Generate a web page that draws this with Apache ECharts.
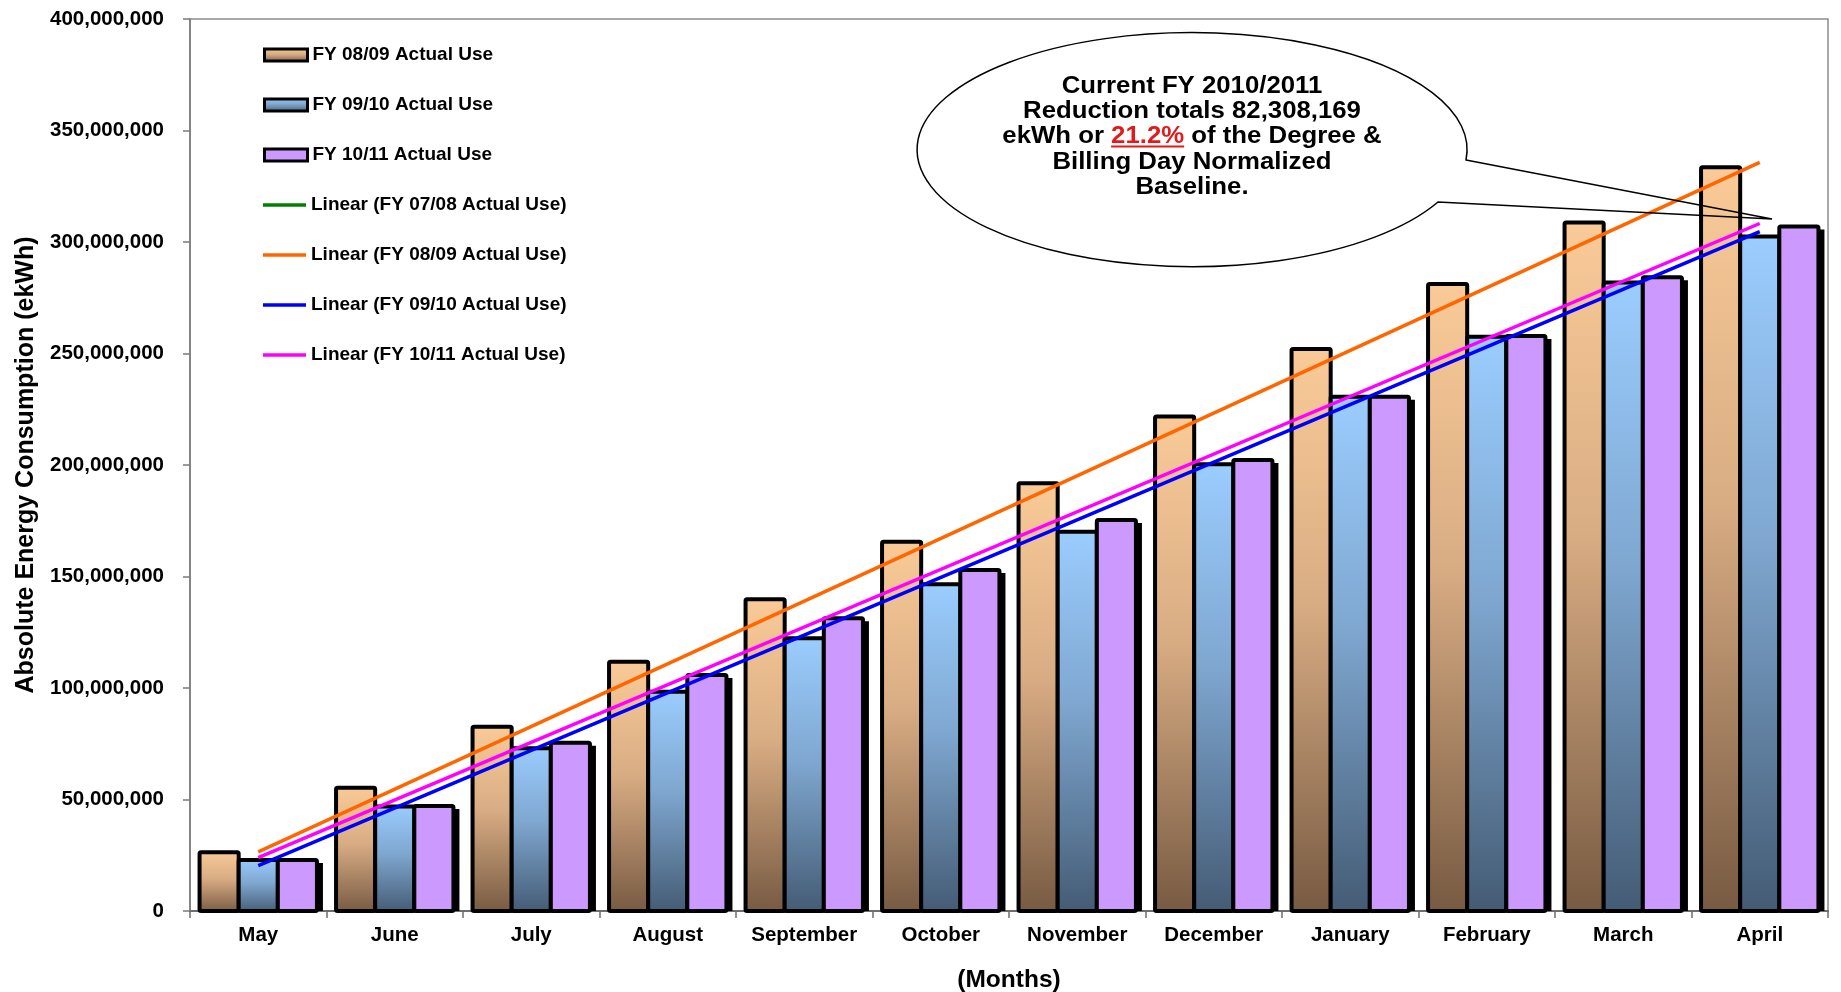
<!DOCTYPE html>
<html>
<head>
<meta charset="utf-8">
<script src="https://cdn.jsdelivr.net/npm/echarts@6/dist/echarts.min.js"></script>
<style>
html,body{margin:0;padding:0;background:#fff;}
#c{width:1841px;height:992px;}
</style>
</head>
<body>
<div id="c"></div>
<script>
// ---- data ----
var months = ['May','June','July','August','September','October','November','December','January','February','March','April'];
var fy0809 = [26.3e6, 55.3e6, 82.6e6, 111.8e6, 139.8e6, 165.6e6, 191.8e6, 221.7e6, 252.0e6, 281.2e6, 308.7e6, 333.5e6];
var fy0910 = [22.9e6, 46.9e6, 73.0e6, 98.3e6, 122.3e6, 146.5e6, 170.1e6, 200.3e6, 230.6e6, 257.5e6, 281.8e6, 302.5e6];
var fy1011 = [22.9e6, 47.1e6, 75.5e6, 105.8e6, 131.3e6, 152.9e6, 175.3e6, 202.2e6, 230.6e6, 257.8e6, 284.2e6, 307.0e6];
// linear trend lines: start (May) and end (April) values
var trend0809 = [26.5e6, 335.7e6];
var trend0910 = [20.3e6, 304.7e6];
var trend1011 = [23.9e6, 308.3e6];
var trend0708 = [];
var yTicks = {min: 0, max: 400e6, interval: 50e6};
var calloutLines = ['Current FY 2010/2011', 'Reduction totals 82,308,169', ['ekWh or ', '21.2%', ' of the Degree &'], 'Billing Day Normalized', 'Baseline.'];

function trendSeries(arr) {
  var d = months.map(function(){ return null; });
  if (arr.length) { d[0] = arr[0]; d[months.length - 1] = arr[1]; }
  return d;
}
function pairs(arr) { return arr.map(function(v, i){ return [i, v]; }); }

var FONT = '"Liberation Sans", Arial, sans-serif';
var chart = echarts.init(document.getElementById('c'));

var tanGrad = new echarts.graphic.LinearGradient(0, 0, 0, 1, [
  {offset: 0, color: '#FACB98'}, {offset: 0.45, color: '#D9AD84'}, {offset: 1, color: '#775A42'}]);
var blueGrad = new echarts.graphic.LinearGradient(0, 0, 0, 1, [
  {offset: 0, color: '#9BCDFF'}, {offset: 0.45, color: '#7FA7D0'}, {offset: 1, color: '#445B74'}]);
var purple = '#CC99FF';

var CAT_GAP = 0.14;
function makeRender(k, fill, shadow) {
  return function(params, api) {
    var idx = api.value(0), val = api.value(1);
    var p0 = api.coord([idx, 0]), p1 = api.coord([idx, val]);
    var band = api.size([1, 0])[0];
    var used = band * (1 - CAT_GAP);
    var bw = used / 3;
    var x = p0[0] - used / 2 + k * bw;
    var h = p0[1] - p1[1];
    var children = [];
    if (shadow) {
      children.push({type: 'rect', shape: {x: x + 6, y: p1[1] + 3, width: bw, height: Math.max(0, h - 3)}, style: {fill: '#000'}});
    }
    children.push({type: 'rect', shape: {x: x, y: p1[1], width: bw, height: h, r: 1.5},
      style: {fill: fill, stroke: '#000', lineWidth: 4, lineJoin: 'round'}});
    return {type: 'group', children: children};
  };
}

// callout geometry
var cx = 1192, rx = 275, ry = 117;
var fs = 23, sx = 1.12, lh = 25.2;
var calloutPath = 'M 1466 160 L 1772 219 L 1438 202 A ' + rx + ' ' + ry + ' 0 1 1 1466 160 Z';
echarts.graphic.registerShape('calloutShape', echarts.graphic.extendPath(calloutPath, {}));

var mctx = document.createElement('canvas').getContext('2d');
mctx.font = 'bold ' + fs + 'px "Liberation Sans"';
var l3 = calloutLines[2];
var w1 = mctx.measureText(l3[0]).width, w2 = mctx.measureText(l3[1]).width, w3 = mctx.measureText(l3[2]).width;
var totalW = (w1 + w2 + w3) * sx;
var textTop = 137 - lh * 2.5;
var ulY = textTop + lh * 3 - 3;
var ulX1 = cx - totalW / 2 + w1 * sx, ulX2 = ulX1 + w2 * sx;

var textStr = calloutLines.map(function(l){
  if (Array.isArray(l)) return l[0] + '{r|' + l[1] + '}' + l[2];
  return l;
}).join('\n');

var barLegendStyle = {borderWidth: 3, borderColor: '#000'};
var legendText = {fontFamily: FONT, fontWeight: 'bold', fontSize: 19, color: '#000', lineHeight: 20};

var option = {
  animation: false,
  backgroundColor: '#fff',
  grid: {left: 190, right: 13, top: 19, bottom: 81, show: true, borderColor: '#8c8c8c', borderWidth: 1.5, containLabel: false, outerBoundsMode: 'none'},
  legend: [{
    orient: 'vertical', left: 258, top: 40, itemWidth: 43, itemHeight: 12, itemGap: 30,
    textStyle: legendText,
    data: [
      {name: 'FY 08/09 Actual Use', icon: 'rect', itemStyle: barLegendStyle},
      {name: 'FY 09/10 Actual Use', icon: 'rect', itemStyle: barLegendStyle},
      {name: 'FY 10/11 Actual Use', icon: 'rect', itemStyle: barLegendStyle}
    ]
  }, {
    orient: 'vertical', left: 258, top: 190, itemWidth: 43, itemHeight: 3.5, itemGap: 30,
    textStyle: legendText,
    data: [
      {name: 'Linear (FY 07/08 Actual Use)', icon: 'rect'},
      {name: 'Linear (FY 08/09 Actual Use)', icon: 'rect'},
      {name: 'Linear (FY 09/10 Actual Use)', icon: 'rect'},
      {name: 'Linear (FY 10/11 Actual Use)', icon: 'rect'}
    ]
  }],
  xAxis: {
    type: 'category', data: months,
    name: '(Months)', nameLocation: 'middle', nameGap: 57,
    nameTextStyle: {fontFamily: FONT, fontWeight: 'bold', fontSize: 24.5, color: '#000'},
    axisLine: {show: true, lineStyle: {color: '#6e6e6e', width: 2}},
    axisTick: {show: true, interval: 0, length: 7, lineStyle: {color: '#6e6e6e', width: 1.5}},
    axisLabel: {interval: 0, margin: 14, fontFamily: FONT, fontWeight: 'bold', fontSize: 20.5, color: '#000'},
    splitLine: {show: false}
  },
  yAxis: {
    type: 'value', min: yTicks.min, max: yTicks.max, interval: yTicks.interval,
    name: 'Absolute Energy Consumption (ekWh)', nameLocation: 'middle', nameGap: 150,
    nameTextStyle: {fontFamily: FONT, fontWeight: 'bold', fontSize: 25, color: '#000'},
    axisLine: {show: true, lineStyle: {color: '#7a7a7a', width: 1.5}},
    axisTick: {show: true, inside: false, length: 7, lineStyle: {color: '#7a7a7a', width: 1.5}},
    axisLabel: {margin: 26, fontFamily: FONT, fontWeight: 'bold', fontSize: 20.5, color: '#000',
      formatter: function(v){ return v.toLocaleString('en-US'); }},
    splitLine: {show: false}
  },
  series: [
    {name: 'FY 08/09 Actual Use', type: 'custom', data: pairs(fy0809), encode: {x: 0, y: 1}, renderItem: makeRender(0, tanGrad, false), itemStyle: {color: tanGrad}, z: 2},
    {name: 'FY 09/10 Actual Use', type: 'custom', data: pairs(fy0910), encode: {x: 0, y: 1}, renderItem: makeRender(1, blueGrad, false), itemStyle: {color: blueGrad}, z: 2},
    {name: 'FY 10/11 Actual Use', type: 'custom', data: pairs(fy1011), encode: {x: 0, y: 1}, renderItem: makeRender(2, purple, true), itemStyle: {color: purple}, z: 2},
    {name: 'Linear (FY 07/08 Actual Use)', type: 'line', data: trendSeries(trend0708), symbol: 'none', connectNulls: true, lineStyle: {color: '#008000', width: 3.5}, itemStyle: {color: '#008000'}, z: 5},
    {name: 'Linear (FY 08/09 Actual Use)', type: 'line', data: trendSeries(trend0809), symbol: 'none', connectNulls: true, lineStyle: {color: '#FF6600', width: 3.5}, itemStyle: {color: '#FF6600'}, z: 5},
    {name: 'Linear (FY 09/10 Actual Use)', type: 'line', data: trendSeries(trend0910), symbol: 'none', connectNulls: true, lineStyle: {color: '#0000FF', width: 3.5}, itemStyle: {color: '#0000FF'}, z: 5},
    {name: 'Linear (FY 10/11 Actual Use)', type: 'line', data: trendSeries(trend1011), symbol: 'none', connectNulls: true, lineStyle: {color: '#FF00FF', width: 3.5}, itemStyle: {color: '#FF00FF'}, z: 5}
  ],
  graphic: [
    {
      type: 'calloutShape', z: 100,
      style: {fill: 'rgba(255,255,255,0)', stroke: '#000', lineWidth: 1.5}
    },
    {
      type: 'text', z: 101, x: cx, y: textTop, scaleX: sx, originX: 0, originY: 0,
      style: {
        text: textStr, x: 0, y: 0, align: 'center', verticalAlign: 'top',
        font: 'bold ' + fs + 'px "Liberation Sans"', fill: '#000', lineHeight: lh,
        rich: {r: {fill: '#E31A1C', fontWeight: 'bold', fontSize: fs, fontFamily: 'Liberation Sans', lineHeight: lh}}
      }
    },
    {
      type: 'line', z: 101,
      shape: {x1: ulX1, y1: ulY, x2: ulX2, y2: ulY},
      style: {stroke: '#E31A1C', lineWidth: 2}
    }
  ]
};
chart.setOption(option);
</script>
</body>
</html>
